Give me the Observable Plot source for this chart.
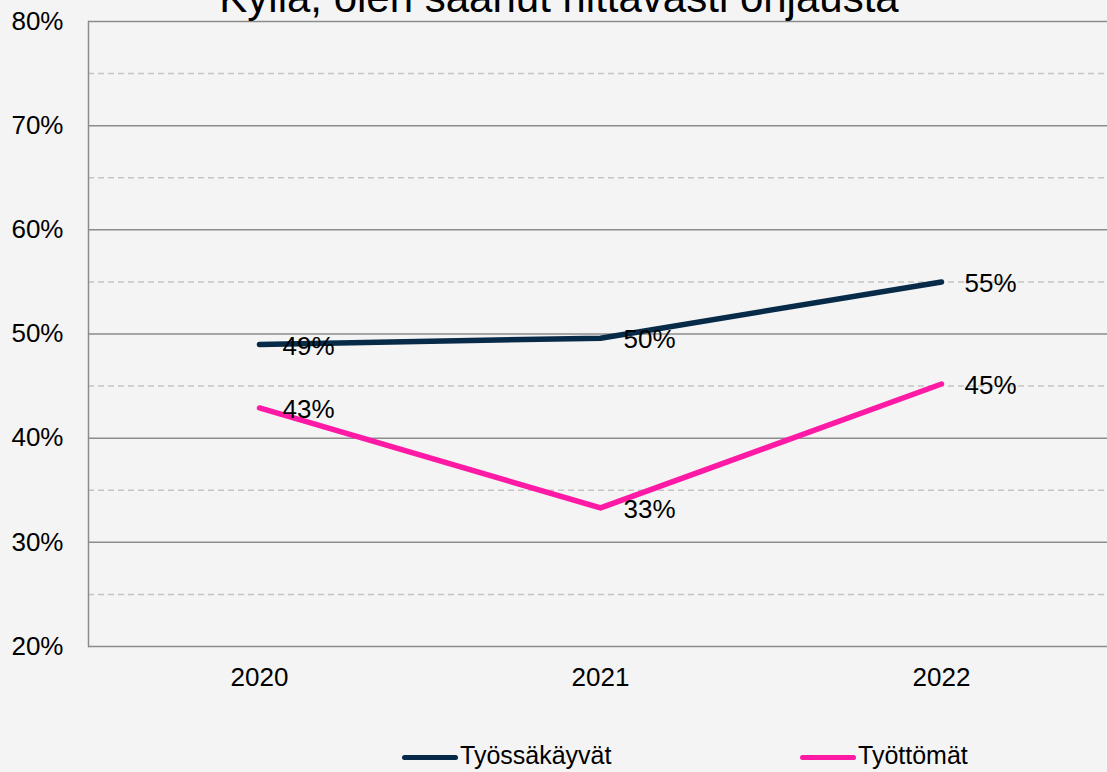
<!DOCTYPE html>
<html>
<head>
<meta charset="utf-8">
<script src="https://cdn.jsdelivr.net/npm/d3@7"></script>
<script src="https://cdn.jsdelivr.net/npm/@observablehq/plot@0.6"></script>
<style>
  html, body { margin: 0; padding: 0; background: #f4f4f4; }
  #wrap { position: relative; width: 1107px; height: 772px; overflow: hidden; background: #f4f4f4;
          font-family: "Liberation Sans", Arial, sans-serif; color: #000; }
  #title { position: absolute; left: 0; top: -23px; width: 1107px; padding-left: 11px; box-sizing: border-box;
           text-align: center; font-size: 42px; line-height: 42px; white-space: nowrap; z-index: 2; }
  #chart { position: absolute; left: 0; top: 0; }
  #legend { position: absolute; left: 0; top: 720px; width: 1107px; height: 52px; }
  .item { position: absolute; top: 20px; display: flex; align-items: center; font-size: 25px; line-height: 30px; }
  .swatch { width: 56px; height: 5px; border-radius: 3px; margin-right: 2px; margin-top: 5px; }
</style>
</head>
<body>
<div id="wrap">
  <div id="chart"></div>
  <div id="title"></div>
  <div id="legend"></div>
</div>
<script>
const titleText = "Kyllä, olen saanut riittävästi ohjausta";
const years = ["2020", "2021", "2022"];
const seriesNames = ["Työssäkäyvät", "Työttömät"];
const tyossakayvat = [49.0, 49.6, 55.0];
const tyottomat = [42.9, 33.3, 45.2];
const seriesColors = ["#062a47", "#ff1aa6"];
const majorTicks = [20, 30, 40, 50, 60, 70, 80];
const minorTicks = [25, 35, 45, 55, 65, 75];
const legendLeft = [402, 800];

const values = [tyossakayvat, tyottomat];
const data = [];
seriesNames.forEach((s, i) => years.forEach((y, j) => data.push({series: s, year: y, value: values[i][j]})));

document.getElementById("title").textContent = titleText;

const plot = Plot.plot({
  width: 1107,
  height: 720,
  marginTop: 21,
  marginBottom: 74,
  marginLeft: 88,
  marginRight: 0,
  style: {background: "transparent", fontFamily: "Liberation Sans, Arial, sans-serif", fontSize: "26px", color: "#000"},
  x: {type: "point", domain: years, range: [88, 1111], padding: 0.5, label: null},
  y: {domain: [20, 80], label: null},
  color: {domain: seriesNames, range: seriesColors},
  marks: [
    Plot.ruleY(minorTicks, {stroke: "#c4c4c4", strokeWidth: 1.5, strokeDasharray: "6,4"}),
    Plot.ruleY(majorTicks, {stroke: "#8c8c8c", strokeWidth: 1.5}),
    Plot.frame({anchor: "left", stroke: "#8c8c8c", strokeWidth: 1.5}),
    Plot.axisY(majorTicks, {tickSize: 0, tickPadding: 25, tickFormat: d => d + "%", fontSize: 26, fill: "#000"}),
    Plot.axisX({tickSize: 0, tickPadding: 21, fontSize: 26, fill: "#000"}),
    Plot.line(data, {x: "year", y: "value", stroke: "series", z: "series", strokeWidth: 5.5,
                     strokeLinecap: "round", strokeLinejoin: "round"}),
    Plot.text(data, {x: "year", y: "value", text: d => Math.round(d.value) + "%", textAnchor: "start",
                     dx: 23, dy: 2, fontSize: 26, fill: "#000"})
  ]
});
document.getElementById("chart").appendChild(plot);

const legend = document.getElementById("legend");
seriesNames.forEach((s, i) => {
  const item = document.createElement("div");
  item.className = "item";
  item.style.left = legendLeft[i] + "px";
  const sw = document.createElement("div");
  sw.className = "swatch";
  sw.style.background = seriesColors[i];
  const lab = document.createElement("span");
  lab.textContent = s;
  item.appendChild(sw);
  item.appendChild(lab);
  legend.appendChild(item);
});
</script>
</body>
</html>
